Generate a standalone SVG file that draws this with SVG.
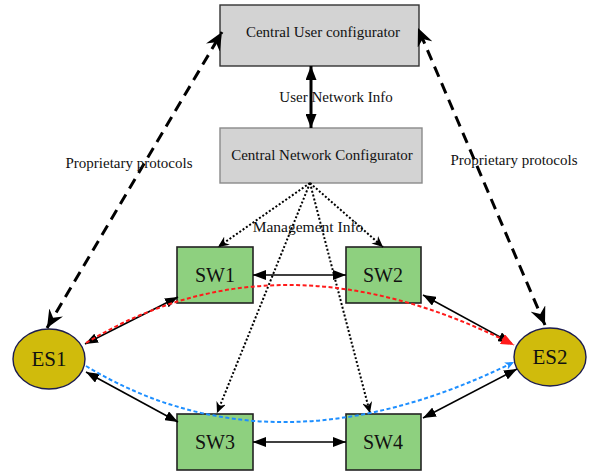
<svg xmlns="http://www.w3.org/2000/svg" width="592" height="472" viewBox="0 0 592 472" font-family="'Liberation Serif', 'Times New Roman', 'DejaVu Serif', serif">
  <style>
    text { font-family: "Liberation Serif", "Times New Roman", "DejaVu Serif", serif; fill: #111; }
    .cfg { fill: #d3d3d3; }
    .sw rect { fill: #8ed07f; stroke: #222; stroke-width: 1.6; }
    .es ellipse { fill: #d0bb0c; stroke: #1c1c4e; stroke-width: 1.4; }
    .solid { stroke: #000; stroke-width: 1.6; fill: none; }
    .thick { stroke: #000; stroke-width: 3; fill: none; }
    .dash { stroke: #000; stroke-width: 3; stroke-dasharray: 11 7; fill: none; }
    .dot { stroke: #000; stroke-width: 2; stroke-dasharray: 2 2; fill: none; }
    .red { stroke: #ff1a1a; stroke-width: 2; stroke-dasharray: 4 2.5; fill: none; }
    .blue { stroke: #1e8fff; stroke-width: 2; stroke-dasharray: 4 2.5; fill: none; }
  </style>
  <defs>
    <marker id="arr" markerUnits="userSpaceOnUse" markerWidth="13" markerHeight="10" refX="13" refY="5" orient="auto-start-reverse">
      <path d="M0,0 L13,5 L0,10 z" fill="#000"/>
    </marker>
    <marker id="arrBig" markerUnits="userSpaceOnUse" markerWidth="14" markerHeight="11" refX="14" refY="5.5" orient="auto-start-reverse">
      <path d="M0,0 L14,5.5 L0,11 z" fill="#000"/>
    </marker>
    <marker id="vee" markerUnits="userSpaceOnUse" markerWidth="18" markerHeight="16" refX="18" refY="8" orient="auto-start-reverse">
      <path d="M0,0 L18,8 L0,16 L6,8 z" fill="#000"/>
    </marker>
    <marker id="veeSmall" markerUnits="userSpaceOnUse" markerWidth="11" markerHeight="10" refX="11" refY="5" orient="auto">
      <path d="M0,0 L11,5 L0,10 L3.5,5 z" fill="#000"/>
    </marker>
    <marker id="arrRed" markerUnits="userSpaceOnUse" markerWidth="13" markerHeight="11" refX="13" refY="5.5" orient="auto">
      <path d="M0,0 L13,5.5 L0,11 z" fill="#ff1a1a"/>
    </marker>
    <marker id="arrBlue" markerUnits="userSpaceOnUse" markerWidth="9" markerHeight="8" refX="9" refY="4" orient="auto">
      <path d="M0,0 L9,4 L0,8 L2.5,4 z" fill="#1e8fff"/>
    </marker>
  </defs>

  <!-- configurator boxes -->
  <g id="cuc">
    <rect class="cfg" x="220" y="5" width="199" height="61" stroke="#333" stroke-width="1.4"/>
    <text x="323" y="37" font-size="15" text-anchor="middle">Central User configurator</text>
  </g>
  <g id="cnc">
    <rect class="cfg" x="220" y="128" width="202" height="55" stroke="#8a8a8a" stroke-width="1.4"/>
    <text x="322" y="160" font-size="15" text-anchor="middle">Central Network Configurator</text>
  </g>

  <!-- switches -->
  <g id="sw1" class="sw">
    <rect x="177" y="247" width="76" height="56"/>
    <text x="215" y="282" font-size="20" text-anchor="middle">SW1</text>
  </g>
  <g id="sw2" class="sw">
    <rect x="346" y="247" width="75" height="56"/>
    <text x="383" y="282" font-size="20" text-anchor="middle">SW2</text>
  </g>
  <g id="sw3" class="sw">
    <rect x="177" y="414" width="76" height="56"/>
    <text x="215" y="449" font-size="20" text-anchor="middle">SW3</text>
  </g>
  <g id="sw4" class="sw">
    <rect x="346" y="414" width="75" height="56"/>
    <text x="383" y="449" font-size="20" text-anchor="middle">SW4</text>
  </g>

  <!-- end stations -->
  <g id="es1" class="es">
    <ellipse cx="49" cy="359" rx="36" ry="30"/>
    <text x="49" y="366" font-size="21" text-anchor="middle">ES1</text>
  </g>
  <g id="es2" class="es">
    <ellipse cx="550" cy="357" rx="36" ry="29"/>
    <text x="550" y="364" font-size="21" text-anchor="middle">ES2</text>
  </g>

  <!-- connectors -->
  <g id="connectors">
    <!-- user <-> network configurator -->
    <line class="thick" x1="311" y1="66" x2="311" y2="128" marker-start="url(#arrBig)" marker-end="url(#arrBig)"/>
    <text x="336" y="102" font-size="15" text-anchor="middle">User Network Info</text>

    <!-- proprietary protocol links -->
    <line class="dash" x1="47" y1="328" x2="222" y2="32" marker-start="url(#vee)" marker-end="url(#vee)"/>
    <line class="dash" x1="545" y1="325" x2="418" y2="28" marker-start="url(#vee)" marker-end="url(#vee)"/>
    <text x="129" y="168" font-size="15" text-anchor="middle">Proprietary protocols</text>
    <text x="514" y="165" font-size="15" text-anchor="middle">Proprietary protocols</text>

    <!-- management info -->
    <line class="dot" x1="310" y1="183" x2="218" y2="247" marker-end="url(#veeSmall)"/>
    <line class="dot" x1="310" y1="183" x2="383" y2="247" marker-end="url(#veeSmall)"/>
    <line class="dot" x1="310" y1="183" x2="217" y2="413" marker-end="url(#veeSmall)"/>
    <line class="dot" x1="310" y1="183" x2="370" y2="413" marker-end="url(#veeSmall)"/>
    <text x="308" y="232" font-size="15.5" text-anchor="middle">Management Info</text>

    <!-- switch links -->
    <line class="solid" x1="253" y1="275" x2="346" y2="275" marker-start="url(#arr)" marker-end="url(#arr)"/>
    <line class="solid" x1="253" y1="442" x2="346" y2="442" marker-start="url(#arr)" marker-end="url(#arr)"/>
    <line class="solid" x1="85" y1="344" x2="178" y2="297" marker-start="url(#arr)" marker-end="url(#arr)"/>
    <line class="solid" x1="86" y1="372" x2="178" y2="422" marker-start="url(#arr)" marker-end="url(#arr)"/>
    <line class="solid" x1="423" y1="295" x2="511" y2="343" marker-start="url(#arr)" marker-end="url(#arr)"/>
    <line class="solid" x1="423" y1="418" x2="517" y2="369" marker-start="url(#arr)" marker-end="url(#arr)"/>

    <!-- end-to-end streams -->
    <path class="red" d="M86,343 Q279,226 514,345" marker-end="url(#arrRed)"/>
    <path class="blue" d="M86,366 Q275,480 514,362" marker-end="url(#arrBlue)"/>
  </g>
</svg>
